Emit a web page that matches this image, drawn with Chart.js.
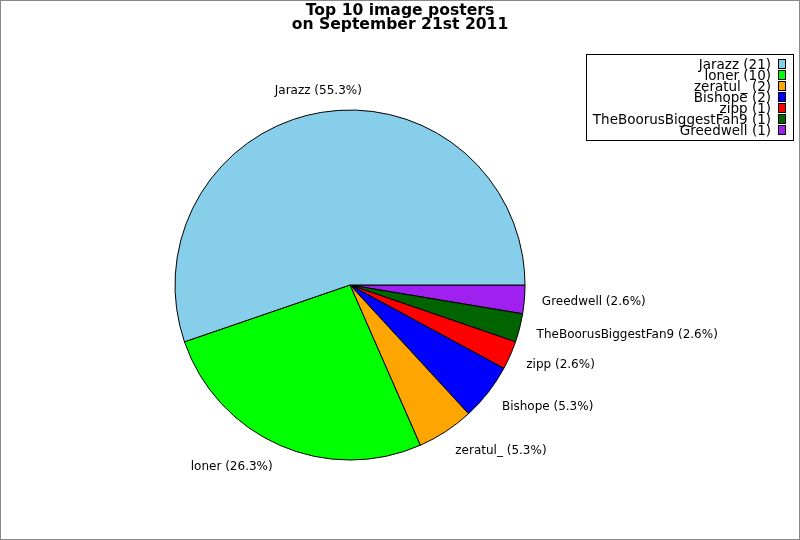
<!DOCTYPE html>
<html>
<head>
<meta charset="utf-8">
<script src="https://cdn.jsdelivr.net/npm/chart.js@4"></script>
<style>
  body { margin: 0; background: #fff; }
  #wrap { width: 800px; height: 540px; }
</style>
</head>
<body>
<div id="wrap"><canvas id="pie" width="800" height="540"></canvas></div>
<script>
const posters = ['Jarazz', 'loner', 'zeratul_', 'Bishope', 'zipp', 'TheBoorusBiggestFan9', 'Greedwell'];
const imageCounts = [21, 10, 2, 2, 1, 1, 1];
const sliceColors = ['#87ceeb', '#00ff00', '#ffa500', '#0000ff', '#ff0000', '#006400', '#a020f0'];
const titleLines = ['Top 10 image posters', 'on September 21st 2011'];

const total = imageCounts.reduce((a, b) => a + b, 0);

// matplotlib goes counter-clockwise from 3 o'clock, chart.js goes clockwise,
// so feed the slices in reverse and start at 90 degrees
const revLabels = posters.slice().reverse();
const revData = imageCounts.slice().reverse();
const revColors = sliceColors.slice().reverse();

const FONT = '"DejaVu Sans", sans-serif';

const extras = {
    id: 'extras',
    afterDraw(chart) {
        const ctx = chart.ctx;
        ctx.save();

        // outer frame
        ctx.strokeStyle = '#888';
        ctx.lineWidth = 1;
        ctx.strokeRect(0.5, 0.5, 799, 539);

        // title
        ctx.fillStyle = '#000';
        ctx.font = 'bold 15.6px ' + FONT;
        ctx.textAlign = 'center';
        ctx.textBaseline = 'middle';
        ctx.fillText(titleLines[0], 400, 11);
        ctx.fillText(titleLines[1], 400, 25);

        // slice labels
        const meta = chart.getDatasetMeta(0);
        ctx.font = '12px ' + FONT;
        meta.data.forEach((arc, i) => {
            const p = arc.getProps(['x', 'y', 'startAngle', 'endAngle', 'outerRadius'], true);
            const mid = (p.startAngle + p.endAngle) / 2;
            const r = p.outerRadius * 1.1;
            const c = Math.cos(mid);
            const s = Math.sin(mid);
            const tx = p.x + c * r;
            const ty = p.y + s * (r + 5) + 1;
            ctx.textAlign = Math.abs(c) < 0.2 ? 'center' : (c > 0 ? 'left' : 'right');
            const pct = (revData[i] / total * 100).toFixed(1);
            ctx.fillText(revLabels[i] + ' (' + pct + '%)', tx, ty);
        });

        // legend box
        ctx.fillStyle = '#fff';
        ctx.fillRect(586.5, 54.5, 207, 86);
        ctx.strokeStyle = '#000';
        ctx.strokeRect(586.5, 54.5, 207, 86);
        ctx.font = '13.5px ' + FONT;
        ctx.textAlign = 'right';
        posters.forEach((name, i) => {
            const y = 64 + i * 11;
            ctx.fillStyle = '#000';
            ctx.fillText(name + ' (' + imageCounts[i] + ')', 771, y + 1.5);
            ctx.fillStyle = sliceColors[i];
            ctx.fillRect(778.5, y - 4.5, 7, 9);
            ctx.strokeRect(778.5, y - 4.5, 7, 9);
        });

        ctx.restore();
    }
};

new Chart(document.getElementById('pie'), {
    type: 'pie',
    data: {
        labels: revLabels,
        datasets: [{
            data: revData,
            backgroundColor: revColors,
            borderColor: '#000',
            borderWidth: 1,
            radius: 175
        }]
    },
    options: {
        responsive: false,
        animation: false,
        rotation: 90,
        layout: { padding: { left: 0, right: 100, top: 30, bottom: 0 } },
        plugins: {
            legend: { display: false },
            title: { display: false },
            tooltip: { enabled: false }
        }
    },
    plugins: [extras]
});
</script>
</body>
</html>
